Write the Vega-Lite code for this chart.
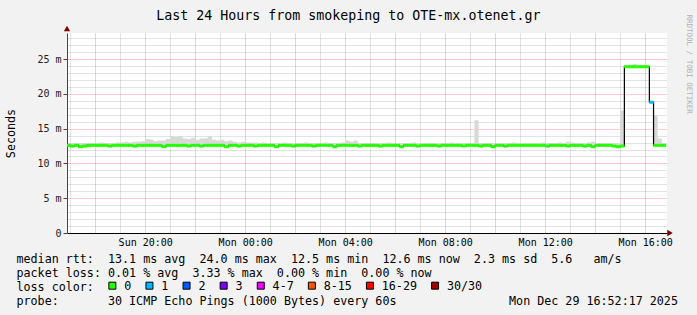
{
  "$schema": "https://vega.github.io/schema/vega-lite/v6.json",
  "width": 600,
  "height": 200,
  "autosize": {"type": "none"},
  "padding": {"left": 67, "top": 33, "right": 30, "bottom": 82},
  "background": "#f2f2f2",
  "config": {"view": {"stroke": null, "fill": "#ffffff"}, "font": "DejaVu Sans Mono"},
  "title": {"text": "Last 24 Hours from smokeping to OTE-mx.otenet.gr", "font": "DejaVu Sans Mono", "fontSize": 13.3, "fontWeight": "normal", "color": "#000000", "anchor": "middle", "frame": "group", "dx": -18.7, "offset": -19, "baseline": "alphabetic"},
  "data": {"values": [
    {"t":"2025-12-28T16:55","m":12.6,"h":12.9,"l":"0"},
    {"t":"2025-12-28T17:05","m":12.5,"h":12.9,"l":"0"},
    {"t":"2025-12-28T17:15","m":12.6,"h":12.9,"l":"0"},
    {"t":"2025-12-28T17:25","m":12.4,"h":12.9,"l":"0"},
    {"t":"2025-12-28T17:35","m":12.5,"h":12.9,"l":"0"},
    {"t":"2025-12-28T17:45","m":12.6,"h":12.9,"l":"0"},
    {"t":"2025-12-28T17:55","m":12.6,"h":12.9,"l":"0"},
    {"t":"2025-12-28T18:05","m":12.6,"h":12.9,"l":"0"},
    {"t":"2025-12-28T18:15","m":12.6,"h":13.0,"l":"0"},
    {"t":"2025-12-28T18:25","m":12.6,"h":12.9,"l":"0"},
    {"t":"2025-12-28T18:35","m":12.5,"h":12.9,"l":"0"},
    {"t":"2025-12-28T18:45","m":12.6,"h":12.9,"l":"0"},
    {"t":"2025-12-28T18:55","m":12.6,"h":13.0,"l":"0"},
    {"t":"2025-12-28T19:05","m":12.6,"h":13.0,"l":"0"},
    {"t":"2025-12-28T19:15","m":12.6,"h":13.1,"l":"0"},
    {"t":"2025-12-28T19:25","m":12.6,"h":13.0,"l":"0"},
    {"t":"2025-12-28T19:35","m":12.5,"h":13.1,"l":"0"},
    {"t":"2025-12-28T19:45","m":12.6,"h":13.1,"l":"0"},
    {"t":"2025-12-28T19:55","m":12.6,"h":13.2,"l":"0"},
    {"t":"2025-12-28T20:05","m":12.6,"h":13.5,"l":"0"},
    {"t":"2025-12-28T20:15","m":12.6,"h":13.4,"l":"0"},
    {"t":"2025-12-28T20:25","m":12.6,"h":13.2,"l":"0"},
    {"t":"2025-12-28T20:35","m":12.6,"h":13.3,"l":"0"},
    {"t":"2025-12-28T20:45","m":12.4,"h":13.3,"l":"0"},
    {"t":"2025-12-28T20:55","m":12.6,"h":13.5,"l":"0"},
    {"t":"2025-12-28T21:05","m":12.6,"h":13.9,"l":"0"},
    {"t":"2025-12-28T21:15","m":12.6,"h":13.8,"l":"0"},
    {"t":"2025-12-28T21:25","m":12.6,"h":13.9,"l":"0"},
    {"t":"2025-12-28T21:35","m":12.6,"h":13.6,"l":"0"},
    {"t":"2025-12-28T21:45","m":12.5,"h":13.5,"l":"0"},
    {"t":"2025-12-28T21:55","m":12.6,"h":13.7,"l":"0"},
    {"t":"2025-12-28T22:05","m":12.6,"h":13.4,"l":"0"},
    {"t":"2025-12-28T22:15","m":12.5,"h":13.6,"l":"0"},
    {"t":"2025-12-28T22:25","m":12.6,"h":13.6,"l":"0"},
    {"t":"2025-12-28T22:35","m":12.6,"h":13.9,"l":"0"},
    {"t":"2025-12-28T22:45","m":12.6,"h":13.4,"l":"0"},
    {"t":"2025-12-28T22:55","m":12.6,"h":13.3,"l":"0"},
    {"t":"2025-12-28T23:05","m":12.6,"h":13.4,"l":"0"},
    {"t":"2025-12-28T23:15","m":12.4,"h":13.2,"l":"0"},
    {"t":"2025-12-28T23:25","m":12.6,"h":13.3,"l":"0"},
    {"t":"2025-12-28T23:35","m":12.6,"h":13.1,"l":"0"},
    {"t":"2025-12-28T23:45","m":12.5,"h":13.0,"l":"0"},
    {"t":"2025-12-28T23:55","m":12.6,"h":13.1,"l":"0"},
    {"t":"2025-12-29T00:05","m":12.6,"h":13.0,"l":"0"},
    {"t":"2025-12-29T00:15","m":12.6,"h":13.0,"l":"0"},
    {"t":"2025-12-29T00:25","m":12.5,"h":13.0,"l":"0"},
    {"t":"2025-12-29T00:35","m":12.6,"h":12.9,"l":"0"},
    {"t":"2025-12-29T00:45","m":12.6,"h":13.0,"l":"0"},
    {"t":"2025-12-29T00:55","m":12.6,"h":12.9,"l":"0"},
    {"t":"2025-12-29T01:05","m":12.6,"h":12.9,"l":"0"},
    {"t":"2025-12-29T01:15","m":12.4,"h":12.9,"l":"0"},
    {"t":"2025-12-29T01:25","m":12.6,"h":12.9,"l":"0"},
    {"t":"2025-12-29T01:35","m":12.6,"h":13.0,"l":"0"},
    {"t":"2025-12-29T01:45","m":12.6,"h":12.9,"l":"0"},
    {"t":"2025-12-29T01:55","m":12.5,"h":12.9,"l":"0"},
    {"t":"2025-12-29T02:05","m":12.6,"h":12.9,"l":"0"},
    {"t":"2025-12-29T02:15","m":12.6,"h":12.9,"l":"0"},
    {"t":"2025-12-29T02:25","m":12.6,"h":13.0,"l":"0"},
    {"t":"2025-12-29T02:35","m":12.6,"h":12.9,"l":"0"},
    {"t":"2025-12-29T02:45","m":12.5,"h":12.9,"l":"0"},
    {"t":"2025-12-29T02:55","m":12.6,"h":12.9,"l":"0"},
    {"t":"2025-12-29T03:05","m":12.6,"h":12.9,"l":"0"},
    {"t":"2025-12-29T03:15","m":12.6,"h":13.0,"l":"0"},
    {"t":"2025-12-29T03:25","m":12.6,"h":12.9,"l":"0"},
    {"t":"2025-12-29T03:35","m":12.4,"h":12.9,"l":"0"},
    {"t":"2025-12-29T03:45","m":12.6,"h":12.9,"l":"0"},
    {"t":"2025-12-29T03:55","m":12.6,"h":13.0,"l":"0"},
    {"t":"2025-12-29T04:05","m":12.6,"h":13.3,"l":"0"},
    {"t":"2025-12-29T04:15","m":12.6,"h":13.1,"l":"0"},
    {"t":"2025-12-29T04:25","m":12.6,"h":13.3,"l":"0"},
    {"t":"2025-12-29T04:35","m":12.5,"h":12.9,"l":"0"},
    {"t":"2025-12-29T04:45","m":12.6,"h":12.9,"l":"0"},
    {"t":"2025-12-29T04:55","m":12.6,"h":12.9,"l":"0"},
    {"t":"2025-12-29T05:05","m":12.6,"h":12.9,"l":"0"},
    {"t":"2025-12-29T05:15","m":12.6,"h":12.9,"l":"0"},
    {"t":"2025-12-29T05:25","m":12.5,"h":12.9,"l":"0"},
    {"t":"2025-12-29T05:35","m":12.6,"h":12.9,"l":"0"},
    {"t":"2025-12-29T05:45","m":12.6,"h":13.0,"l":"0"},
    {"t":"2025-12-29T05:55","m":12.6,"h":12.9,"l":"0"},
    {"t":"2025-12-29T06:05","m":12.6,"h":12.9,"l":"0"},
    {"t":"2025-12-29T06:15","m":12.4,"h":12.9,"l":"0"},
    {"t":"2025-12-29T06:25","m":12.6,"h":12.9,"l":"0"},
    {"t":"2025-12-29T06:35","m":12.6,"h":12.9,"l":"0"},
    {"t":"2025-12-29T06:45","m":12.6,"h":13.0,"l":"0"},
    {"t":"2025-12-29T06:55","m":12.5,"h":12.9,"l":"0"},
    {"t":"2025-12-29T07:05","m":12.6,"h":12.9,"l":"0"},
    {"t":"2025-12-29T07:15","m":12.6,"h":12.9,"l":"0"},
    {"t":"2025-12-29T07:25","m":12.6,"h":12.9,"l":"0"},
    {"t":"2025-12-29T07:35","m":12.6,"h":12.9,"l":"0"},
    {"t":"2025-12-29T07:45","m":12.5,"h":12.9,"l":"0"},
    {"t":"2025-12-29T07:55","m":12.6,"h":12.9,"l":"0"},
    {"t":"2025-12-29T08:05","m":12.6,"h":12.9,"l":"0"},
    {"t":"2025-12-29T08:15","m":12.6,"h":13.0,"l":"0"},
    {"t":"2025-12-29T08:25","m":12.6,"h":12.9,"l":"0"},
    {"t":"2025-12-29T08:35","m":12.6,"h":12.9,"l":"0"},
    {"t":"2025-12-29T08:45","m":12.5,"h":12.9,"l":"0"},
    {"t":"2025-12-29T08:55","m":12.6,"h":12.9,"l":"0"},
    {"t":"2025-12-29T09:05","m":12.6,"h":12.9,"l":"0"},
    {"t":"2025-12-29T09:15","m":12.6,"h":16.2,"l":"0"},
    {"t":"2025-12-29T09:25","m":12.5,"h":12.9,"l":"0"},
    {"t":"2025-12-29T09:35","m":12.6,"h":12.9,"l":"0"},
    {"t":"2025-12-29T09:45","m":12.6,"h":12.9,"l":"0"},
    {"t":"2025-12-29T09:55","m":12.4,"h":12.9,"l":"0"},
    {"t":"2025-12-29T10:05","m":12.6,"h":12.9,"l":"0"},
    {"t":"2025-12-29T10:15","m":12.6,"h":12.9,"l":"0"},
    {"t":"2025-12-29T10:25","m":12.5,"h":12.9,"l":"0"},
    {"t":"2025-12-29T10:35","m":12.6,"h":12.9,"l":"0"},
    {"t":"2025-12-29T10:45","m":12.6,"h":13.0,"l":"0"},
    {"t":"2025-12-29T10:55","m":12.6,"h":12.9,"l":"0"},
    {"t":"2025-12-29T11:05","m":12.6,"h":12.9,"l":"0"},
    {"t":"2025-12-29T11:15","m":12.6,"h":12.9,"l":"0"},
    {"t":"2025-12-29T11:25","m":12.6,"h":12.9,"l":"0"},
    {"t":"2025-12-29T11:35","m":12.6,"h":12.9,"l":"0"},
    {"t":"2025-12-29T11:45","m":12.6,"h":12.9,"l":"0"},
    {"t":"2025-12-29T11:55","m":12.6,"h":13.0,"l":"0"},
    {"t":"2025-12-29T12:05","m":12.5,"h":12.9,"l":"0"},
    {"t":"2025-12-29T12:15","m":12.6,"h":12.9,"l":"0"},
    {"t":"2025-12-29T12:25","m":12.6,"h":12.9,"l":"0"},
    {"t":"2025-12-29T12:35","m":12.6,"h":13.0,"l":"0"},
    {"t":"2025-12-29T12:45","m":12.6,"h":12.9,"l":"0"},
    {"t":"2025-12-29T12:55","m":12.5,"h":13.1,"l":"0"},
    {"t":"2025-12-29T13:05","m":12.6,"h":13.0,"l":"0"},
    {"t":"2025-12-29T13:15","m":12.6,"h":12.9,"l":"0"},
    {"t":"2025-12-29T13:25","m":12.6,"h":12.9,"l":"0"},
    {"t":"2025-12-29T13:35","m":12.5,"h":12.9,"l":"0"},
    {"t":"2025-12-29T13:45","m":12.6,"h":13.0,"l":"0"},
    {"t":"2025-12-29T13:55","m":12.4,"h":13.1,"l":"0"},
    {"t":"2025-12-29T14:05","m":12.6,"h":12.9,"l":"0"},
    {"t":"2025-12-29T14:15","m":12.6,"h":12.9,"l":"0"},
    {"t":"2025-12-29T14:25","m":12.6,"h":12.9,"l":"0"},
    {"t":"2025-12-29T14:35","m":12.6,"h":12.9,"l":"0"},
    {"t":"2025-12-29T14:45","m":12.5,"h":12.9,"l":"0"},
    {"t":"2025-12-29T14:55","m":12.4,"h":12.9,"l":"0"},
    {"t":"2025-12-29T15:05","m":12.5,"h":17.6,"l":"0"},
    {"t":"2025-12-29T15:15","m":23.9,"h":24.2,"l":"0"},
    {"t":"2025-12-29T15:25","m":23.9,"h":24.2,"l":"0"},
    {"t":"2025-12-29T15:35","m":23.9,"h":24.3,"l":"0"},
    {"t":"2025-12-29T15:45","m":23.9,"h":24.2,"l":"0"},
    {"t":"2025-12-29T15:55","m":23.9,"h":24.2,"l":"0"},
    {"t":"2025-12-29T16:05","m":23.9,"h":24.2,"l":"0"},
    {"t":"2025-12-29T16:15","m":18.8,"h":18.8,"l":"1"},
    {"t":"2025-12-29T16:25","m":12.6,"h":16.9,"l":"0"},
    {"t":"2025-12-29T16:35","m":12.6,"h":13.6,"l":"0"},
    {"t":"2025-12-29T16:45","m":12.6,"h":12.9,"l":"0"}
  ]},
  "resolve": {"axis": {"x": "independent", "y": "independent"}},
  "layer": [
    {
      "mark": {"type": "area", "interpolate": "step", "color": "#d8d8d8", "clip": true},
      "encoding": {
        "x": {"field": "t", "type": "temporal",
          "scale": {"domain": [{"year":2025,"month":12,"date":28,"hours":16,"minutes":52,"seconds":17},{"year":2025,"month":12,"date":29,"hours":16,"minutes":52,"seconds":17}], "nice": false},
          "axis": {"orient": "bottom", "values": [
            {"year":2025,"month":12,"date":28,"hours":17},{"year":2025,"month":12,"date":28,"hours":19},{"year":2025,"month":12,"date":28,"hours":21},{"year":2025,"month":12,"date":28,"hours":23},
            {"year":2025,"month":12,"date":29,"hours":1},{"year":2025,"month":12,"date":29,"hours":3},{"year":2025,"month":12,"date":29,"hours":5},{"year":2025,"month":12,"date":29,"hours":7},
            {"year":2025,"month":12,"date":29,"hours":9},{"year":2025,"month":12,"date":29,"hours":11},{"year":2025,"month":12,"date":29,"hours":13},{"year":2025,"month":12,"date":29,"hours":15}],
            "grid": true, "gridColor": "#000000", "gridOpacity": 0.22, "gridDash": [1, 1], "labels": false, "ticks": false, "domain": false,
            "title": [
              "median\u00a0rtt:\u00a0\u00a013.1\u00a0ms\u00a0avg\u00a0\u00a024.0\u00a0ms\u00a0max\u00a0\u00a012.5\u00a0ms\u00a0min\u00a0\u00a012.6\u00a0ms\u00a0now\u00a0\u00a02.3\u00a0ms\u00a0sd\u00a0\u00a05.6\u00a0\u00a0\u00a0am/s",
              "packet\u00a0loss:\u00a00.01\u00a0%\u00a0avg\u00a0\u00a03.33\u00a0%\u00a0max\u00a0\u00a00.00\u00a0%\u00a0min\u00a0\u00a00.00\u00a0%\u00a0now"
            ],
            "titleFont": "DejaVu Sans Mono", "titleFontSize": 11.7, "titleFontWeight": "normal", "titleColor": "#000000",
            "titleAlign": "left", "titleBaseline": "alphabetic", "titleX": -51, "titleY": 29.5, "titleLineHeight": 13.9}},
        "y": {"field": "m", "type": "quantitative",
          "scale": {"domain": [0, 28.75], "nice": false, "zero": false},
          "axis": {"orient": "left", "values": [1,2,3,4,6,7,8,9,11,12,13,14,16,17,18,19,21,22,23,24,26,27,28],
            "grid": true, "gridColor": "#000000", "gridOpacity": 0.22, "gridDash": [1, 1], "labels": false, "ticks": false, "domain": false, "title": null}},
        "y2": {"field": "h"}
      }
    },
    {
      "mark": {"type": "line", "interpolate": "step", "color": "#000000", "strokeWidth": 1.2, "clip": true},
      "encoding": {
        "x": {"field": "t", "type": "temporal",
          "scale": {"domain": [{"year":2025,"month":12,"date":28,"hours":16,"minutes":52,"seconds":17},{"year":2025,"month":12,"date":29,"hours":16,"minutes":52,"seconds":17}], "nice": false},
          "axis": {"orient": "bottom", "values": [
            {"year":2025,"month":12,"date":28,"hours":18},{"year":2025,"month":12,"date":28,"hours":20},{"year":2025,"month":12,"date":28,"hours":22},
            {"year":2025,"month":12,"date":29,"hours":0},{"year":2025,"month":12,"date":29,"hours":2},{"year":2025,"month":12,"date":29,"hours":4},{"year":2025,"month":12,"date":29,"hours":6},
            {"year":2025,"month":12,"date":29,"hours":8},{"year":2025,"month":12,"date":29,"hours":10},{"year":2025,"month":12,"date":29,"hours":12},{"year":2025,"month":12,"date":29,"hours":14},{"year":2025,"month":12,"date":29,"hours":16}],
            "grid": true, "gridColor": "#ff0000", "gridOpacity": 0.4, "gridDash": [1, 1], "labels": false, "ticks": false, "domain": false, "title": null}},
        "y": {"field": "m", "type": "quantitative",
          "scale": {"domain": [0, 28.75], "nice": false, "zero": false},
          "axis": {"orient": "left", "values": [5, 10, 15, 20, 25],
            "grid": true, "gridColor": "#ff0000", "gridOpacity": 0.4, "gridDash": [1, 1], "labels": false, "ticks": false, "domain": false, "title": null}}
      }
    },
    {
      "mark": {"type": "tick", "orient": "horizontal", "size": 4.6, "thickness": 3, "opacity": 1, "clip": true},
      "encoding": {
        "x": {"field": "t", "type": "temporal",
          "scale": {"domain": [{"year":2025,"month":12,"date":28,"hours":16,"minutes":52,"seconds":17},{"year":2025,"month":12,"date":29,"hours":16,"minutes":52,"seconds":17}], "nice": false},
          "axis": null},
        "y": {"field": "m", "type": "quantitative",
          "scale": {"domain": [0, 28.75], "nice": false, "zero": false},
          "axis": {"orient": "right", "labels": false, "ticks": false, "grid": false, "domain": false,
            "title": "RRDTOOL / TOBI OETIKER", "titleFont": "DejaVu Sans Mono", "titleFontSize": 7.5, "titleFontWeight": "normal", "titleColor": "#b0b0b0",
            "titleAngle": 90, "titleX": 21, "titleY": -19, "titleAlign": "left", "titleBaseline": "middle"}},
        "color": {"field": "l", "type": "nominal",
          "scale": {"domain": ["0", "1", "2", "3", "4-7", "8-15", "16-29", "30/30"],
                    "range": ["#26ff00", "#00b8ff", "#0059ff", "#7e00ff", "#f000ff", "#ff5500", "#ff0000", "#a10000"]},
          "legend": {"orient": "none", "legendX": 39.5, "legendY": 246.6, "direction": "horizontal", "columns": 8, "title": null,
            "labelFont": "DejaVu Sans Mono", "labelFontSize": 11.7, "labelColor": "#000000", "labelOffset": 6, "columnPadding": 12.1, "padding": 0,
            "symbolType": "square", "symbolSize": 49, "symbolStrokeColor": "#000000", "symbolStrokeWidth": 1, "symbolOpacity": 1,
            "encode": {"symbols": {"update": {"stroke": {"value": "#000000"}, "strokeWidth": {"value": 1}, "opacity": {"value": 1}}}}}}
      }
    },
    {
      "data": {"values": [{}]},
      "mark": {"type": "point", "shape": "triangle-right", "filled": true, "size": 40, "color": "#800000", "opacity": 1},
      "encoding": {
        "x": {"datum": {"year":2025,"month":12,"date":29,"hours":16,"minutes":59,"seconds":30}, "type": "temporal",
          "scale": {"domain": [{"year":2025,"month":12,"date":28,"hours":16,"minutes":52,"seconds":17},{"year":2025,"month":12,"date":29,"hours":16,"minutes":52,"seconds":17}], "nice": false},
          "axis": {"orient": "bottom", "values": [
            {"year":2025,"month":12,"date":28,"hours":20},{"year":2025,"month":12,"date":29,"hours":0},{"year":2025,"month":12,"date":29,"hours":4},
            {"year":2025,"month":12,"date":29,"hours":8},{"year":2025,"month":12,"date":29,"hours":12},{"year":2025,"month":12,"date":29,"hours":16}],
            "format": "%a %H:%M", "grid": false, "ticks": false, "domain": true, "domainColor": "#000000", "domainWidth": 1,
            "labelFont": "DejaVu Sans Mono", "labelFontSize": 10, "labelColor": "#000000", "labelPadding": 4, "labelFlush": false, "labelOverlap": false,
            "title": "loss\u00a0color:",
            "titleFont": "DejaVu Sans Mono", "titleFontSize": 11.7, "titleFontWeight": "normal", "titleColor": "#000000",
            "titleAlign": "left", "titleBaseline": "alphabetic", "titleX": -51, "titleY": 57.5}},
        "y": {"datum": 0, "type": "quantitative",
          "scale": {"domain": [0, 28.75], "nice": false, "zero": false},
          "axis": {"orient": "left", "values": [0, 5, 10, 15, 20, 25],
            "labelExpr": "datum.value == 0 ? '0\u00a0\u00a0' : datum.value + '\u00a0m'",
            "grid": false, "ticks": true, "tickSize": 4, "tickColor": "#444444", "domain": true, "domainColor": "#444444",
            "labelFont": "DejaVu Sans Mono", "labelFontSize": 10, "labelColor": "#222222", "labelPadding": 2,
            "title": "Seconds", "titleFont": "DejaVu Sans Mono", "titleFontSize": 11.7, "titleFontWeight": "normal", "titleColor": "#000000",
            "titleX": -52.3, "titleY": 100, "titleAlign": "center", "titleBaseline": "alphabetic", "titleAngle": 270}}
      }
    },
    {
      "data": {"values": [{}]},
      "mark": {"type": "point", "shape": "triangle-up", "filled": true, "size": 40, "color": "#800000", "opacity": 1},
      "encoding": {
        "x": {"datum": {"year":2025,"month":12,"date":28,"hours":16,"minutes":52,"seconds":17}, "type": "temporal",
          "scale": {"domain": [{"year":2025,"month":12,"date":28,"hours":16,"minutes":52,"seconds":17},{"year":2025,"month":12,"date":29,"hours":16,"minutes":52,"seconds":17}], "nice": false},
          "axis": {"orient": "bottom", "labels": false, "ticks": false, "grid": false, "domain": false,
            "title": "probe:\u00a0\u00a0\u00a0\u00a0\u00a0\u00a0\u00a030\u00a0ICMP\u00a0Echo\u00a0Pings\u00a0(1000\u00a0Bytes)\u00a0every\u00a060s\u00a0\u00a0\u00a0\u00a0\u00a0\u00a0\u00a0\u00a0\u00a0\u00a0\u00a0\u00a0\u00a0\u00a0\u00a0\u00a0Mon\u00a0Dec\u00a029\u00a016:52:17\u00a02025",
            "titleFont": "DejaVu Sans Mono", "titleFontSize": 11.7, "titleFontWeight": "normal", "titleColor": "#000000",
            "titleAlign": "left", "titleBaseline": "alphabetic", "titleX": -51, "titleY": 71.4}},
        "y": {"datum": 29.4, "type": "quantitative",
          "scale": {"domain": [0, 28.75], "nice": false, "zero": false},
          "axis": null}
      }
    }
  ]
}
